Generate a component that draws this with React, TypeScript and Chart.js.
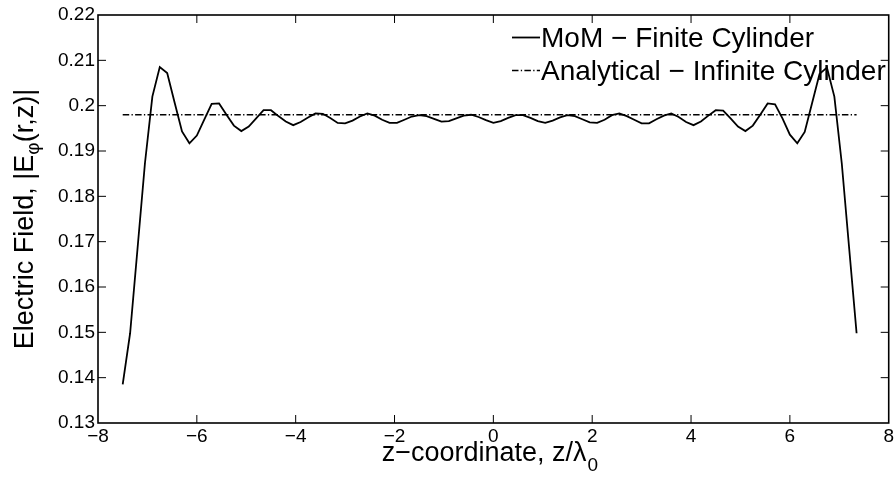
import { useEffect, useRef } from "react";
import { Chart, registerables } from "chart.js";

Chart.register(...registerables);

// ---- data ----
const zCoords = [
  -7.5, -7.35, -7.2, -7.05, -6.9, -6.75, -6.6, -6.45, -6.3, -6.15,
  -6.0, -5.85, -5.7, -5.55, -5.4, -5.25, -5.1, -4.95, -4.8, -4.65,
  -4.5, -4.35, -4.2, -4.05, -3.9, -3.75, -3.6, -3.45, -3.3, -3.15,
  -3.0, -2.85, -2.7, -2.55, -2.4, -2.25, -2.1, -1.95, -1.8, -1.65,
  -1.5, -1.35, -1.2, -1.05, -0.9, -0.75, -0.6, -0.45, -0.3, -0.15,
  0.0, 0.15, 0.3, 0.45, 0.6, 0.75, 0.9, 1.05, 1.2, 1.35,
  1.5, 1.65, 1.8, 1.95, 2.1, 2.25, 2.4, 2.55, 2.7, 2.85,
  3.0, 3.15, 3.3, 3.45, 3.6, 3.75, 3.9, 4.05, 4.2, 4.35,
  4.5, 4.65, 4.8, 4.95, 5.1, 5.25, 5.4, 5.55, 5.7, 5.85,
  6.0, 6.15, 6.3, 6.45, 6.6, 6.75, 6.9, 7.05, 7.2, 7.35,
];

const momField = [
  0.1385, 0.1498, 0.1685, 0.1873, 0.2020, 0.2085, 0.2072, 0.2007, 0.1943, 0.1917,
  0.1934, 0.1969, 0.2004, 0.2005, 0.1980, 0.1956, 0.1944, 0.1954, 0.1972, 0.1990,
  0.1990, 0.1977, 0.1965, 0.1957, 0.1964, 0.1974, 0.1983, 0.1982, 0.1973, 0.1962,
  0.1961, 0.1967, 0.1976, 0.1983, 0.1978, 0.1969, 0.1962, 0.1962, 0.1969, 0.1976,
  0.1979, 0.1977, 0.1971, 0.1965, 0.1966, 0.1972, 0.1978, 0.1980, 0.1975, 0.1968,
  0.1962, 0.1966, 0.1973, 0.1979, 0.1979, 0.1973, 0.1966, 0.1962, 0.1967, 0.1974,
  0.1979, 0.1977, 0.1970, 0.1963, 0.1962, 0.1969, 0.1979, 0.1983, 0.1977, 0.1969,
  0.1961, 0.1961, 0.1970, 0.1978, 0.1983, 0.1975, 0.1964, 0.1957, 0.1965, 0.1978,
  0.1990, 0.1989, 0.1972, 0.1954, 0.1944, 0.1956, 0.1980, 0.2005, 0.2003, 0.1972,
  0.1936, 0.1917, 0.1942, 0.2006, 0.2070, 0.2084, 0.2020, 0.1873, 0.1685, 0.1498,
];

const analyticalZ = [-7.5, 7.35];
const analyticalField = [0.198, 0.198];

const seriesLabels = ["MoM \u2212 Finite Cylinder", "Analytical \u2212 Infinite Cylinder"];

const xMin = -8;
const xMax = 8;
const xStep = 2;
const yMin = 0.13;
const yMax = 0.22;
const yStep = 0.01;

const xTitleMain = "z\u2212coordinate, z/\u03bb";
const xTitleSub = "0";
const yTitleMain = "Electric Field, |E";
const yTitleSub = "\u03c6";
const yTitleTail = "(r,z)|";

const FONT = '"Liberation Sans", Arial, Helvetica, sans-serif';
const DASH_DOT = [6.5, 2.3, 1.3, 2.3];

const framePlugin = {
  id: "matlabFrame",
  afterDraw(chart: any) {
    const { ctx, chartArea: a, scales } = chart;
    ctx.save();
    // tick marks (inward, all four sides)
    ctx.strokeStyle = "#000";
    ctx.lineWidth = 1;
    const tl = 8;
    const seg = (x1: number, y1: number, x2: number, y2: number) => {
      ctx.beginPath();
      ctx.moveTo(x1, y1);
      ctx.lineTo(x2, y2);
      ctx.stroke();
    };
    scales.x.ticks.forEach((t: any) => {
      const p = scales.x.getPixelForValue(t.value);
      if (p <= a.left + 1 || p >= a.right - 1) return;
      seg(p, a.bottom, p, a.bottom - tl);
      seg(p, a.top, p, a.top + tl);
    });
    scales.y.ticks.forEach((t: any) => {
      const p = scales.y.getPixelForValue(t.value);
      if (p <= a.top + 1 || p >= a.bottom - 1) return;
      seg(a.left, p, a.left + tl, p);
      seg(a.right, p, a.right - tl, p);
    });
    // box
    ctx.lineWidth = 1.6;
    ctx.strokeRect(a.left, a.top, a.right - a.left, a.bottom - a.top);

    // legend (inside, top-right, no box)
    ctx.fillStyle = "#000";
    ctx.font = `28px ${FONT}`;
    ctx.textBaseline = "alphabetic";
    ctx.textAlign = "left";
    const lx1 = 512;
    const lx2 = 540;
    const tx = 541;
    const rows = [
      { base: 47, dash: [] as number[], w: 1.8 },
      { base: 80, dash: DASH_DOT, w: 1.3 },
    ];
    rows.forEach((r, i) => {
      const ly = r.base - 9.5;
      ctx.save();
      ctx.lineWidth = r.w;
      ctx.setLineDash(r.dash);
      seg(lx1, ly, lx2, ly);
      ctx.restore();
      ctx.fillText(chart.data.datasets[i].label, tx, r.base);
    });

    // x title with subscript
    const cx = (a.left + a.right) / 2 - 4;
    ctx.font = `27px ${FONT}`;
    const wMain = ctx.measureText(xTitleMain).width;
    ctx.font = `19px ${FONT}`;
    const wSub = ctx.measureText(xTitleSub).width;
    const sx = cx - (wMain + wSub) / 2;
    ctx.font = `27px ${FONT}`;
    ctx.fillText(xTitleMain, sx, 461);
    ctx.font = `19px ${FONT}`;
    ctx.fillText(xTitleSub, sx + wMain + 1, 471);

    // y title rotated with subscript
    const cy = (a.top + a.bottom) / 2;
    ctx.save();
    ctx.translate(33, cy);
    ctx.rotate(-Math.PI / 2);
    ctx.font = `27px ${FONT}`;
    const w1 = ctx.measureText(yTitleMain).width;
    const w3 = ctx.measureText(yTitleTail).width;
    ctx.font = `19px ${FONT}`;
    const w2 = ctx.measureText(yTitleSub).width;
    let px = -(w1 + w2 + w3) / 2;
    ctx.font = `27px ${FONT}`;
    ctx.fillText(yTitleMain, px, 0);
    px += w1;
    ctx.font = `19px ${FONT}`;
    ctx.fillText(yTitleSub, px, 6);
    px += w2;
    ctx.font = `27px ${FONT}`;
    ctx.fillText(yTitleTail, px, 0);
    ctx.restore();

    ctx.restore();
  },
};

export default function App() {
  const ref = useRef<HTMLCanvasElement | null>(null);

  useEffect(() => {
    document.body.style.margin = "0";
    const canvas = ref.current;
    if (!canvas) return;
    const fmtNum = (v: number) => {
      const s = String(Number(v.toFixed(2)));
      return s.replace("-", "\u2212");
    };
    const chart = new Chart(canvas, {
      type: "line",
      data: {
        datasets: [
          {
            label: seriesLabels[0],
            data: zCoords.map((z, i) => ({ x: z, y: momField[i] })),
            borderColor: "#000",
            borderWidth: 1.8,
            pointRadius: 0,
            tension: 0,
            fill: false,
          },
          {
            label: seriesLabels[1],
            data: analyticalZ.map((z, i) => ({ x: z, y: analyticalField[i] })),
            borderColor: "#000",
            borderWidth: 1.3,
            borderDash: DASH_DOT,
            pointRadius: 0,
            tension: 0,
            fill: false,
          },
        ],
      },
      options: {
        animation: false,
        responsive: false,
        devicePixelRatio: 1,
        layout: { padding: { top: 15, right: 5, left: 0, bottom: 0 } },
        plugins: {
          legend: { display: false },
          tooltip: { enabled: false },
        },
        scales: {
          x: {
            type: "linear",
            min: xMin,
            max: xMax,
            ticks: {
              stepSize: xStep,
              color: "#000",
              font: { family: FONT, size: 19 },
              padding: 2,
              maxRotation: 0,
              autoSkip: false,
              callback: (v: any) => fmtNum(Number(v)),
            },
            grid: { display: false, drawTicks: false },
            border: { display: false },
            afterFit: (s: any) => {
              s.height = 54;
            },
          },
          y: {
            type: "linear",
            min: yMin,
            max: yMax,
            ticks: {
              stepSize: yStep,
              color: "#000",
              font: { family: FONT, size: 19 },
              padding: 3,
              autoSkip: false,
              callback: (v: any) => fmtNum(Number(v)),
            },
            grid: { display: false, drawTicks: false },
            border: { display: false },
            afterFit: (s: any) => {
              s.width = 98;
            },
          },
        },
      },
      plugins: [framePlugin],
    } as any);
    return () => chart.destroy();
  }, []);

  return (
    <div style={{ width: 896, height: 477, background: "#fff" }}>
      <canvas ref={ref} width={896} height={477} style={{ display: "block" }} />
    </div>
  );
}
